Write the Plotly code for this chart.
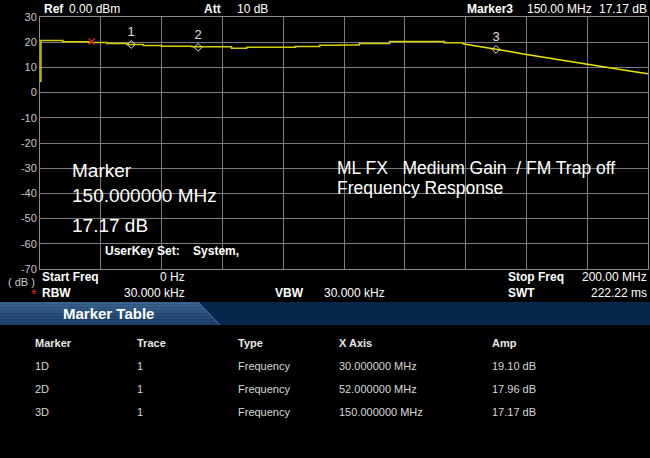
import plotly.graph_objects as go

# trace 1 (MHz / dB)
freq_mhz = [0, 0.3, 7.5, 16, 22, 28.6, 34, 40, 50, 63, 68, 84, 92, 98.4, 105, 115, 133, 139,
            144, 149, 154, 159, 164, 170, 175, 180, 185, 190, 195, 200]
amp_db = [4.5, 20.7, 20.2, 19.9, 19.5, 19.1, 18.7, 18.4, 18.2, 17.6, 18.0, 18.3, 18.8, 18.9,
          19.5, 20.3, 19.8, 19.4, 18.5, 17.4, 16.4, 15.3, 14.3, 13.1, 12.1, 11.1, 10.2, 9.3, 8.4, 7.5]
roll_off_start = 17  # index where the response starts falling

# markers
marker_names = ["1", "2", "3"]
marker_freq = [30, 52, 150]
marker_amp = [19.10, 17.96, 17.17]
peak_freq = [17]
peak_amp = [20.3]

# marker table
tbl_marker = ["1D", "2D", "3D"]
tbl_trace = ["1", "1", "1"]
tbl_type = ["Frequency", "Frequency", "Frequency"]
tbl_xaxis = ["30.000000 MHz", "52.000000 MHz", "150.000000 MHz"]
tbl_amp = ["19.10 dB", "17.96 dB", "17.17 dB"]

y_ticks = [30, 20, 10, 0, -10, -20, -30, -40, -50, -60, -70]

FONT = "Liberation Sans, Arial, sans-serif"
W, H = 650, 458
L, R, T, B = 40, 648, 17, 269


# pixel -> paper
def px(x):
    return (x - L) / (R - L)


def py(y):
    return (B - y) / (B - T)


fig = go.Figure()

# flat part is stepped on the display, the roll-off is a plain slope
fig.add_trace(go.Scatter(x=freq_mhz[:roll_off_start + 1], y=amp_db[:roll_off_start + 1], mode="lines",
                         line=dict(color="#d4d000", width=1.5, shape="hv"), showlegend=False, hoverinfo="skip"))
fig.add_trace(go.Scatter(x=freq_mhz[roll_off_start:], y=amp_db[roll_off_start:], mode="lines",
                         line=dict(color="#e8e800", width=1.5), showlegend=False, hoverinfo="skip"))
fig.add_trace(go.Scatter(x=marker_freq, y=marker_amp, mode="markers+text", text=marker_names,
                         textposition="top center", textfont=dict(color="#e0e0e0", size=13, family=FONT),
                         marker=dict(symbol="diamond-open", size=6, color="#e0e0e0", line=dict(width=1)),
                         showlegend=False))
fig.add_trace(go.Scatter(x=peak_freq, y=peak_amp, mode="markers",
                         marker=dict(symbol="x-thin-open", size=6, color="#d02020", line=dict(width=1.5, color="#d02020")),
                         showlegend=False))

ann = []


def txt(x, y, s, size=12, color="white", anchor="left", bold=False):
    ann.append(dict(x=px(x), y=py(y), xref="paper", yref="paper", text=("<b>%s</b>" % s) if bold else s,
                    showarrow=False, xanchor=anchor, yanchor="middle",
                    font=dict(family=FONT, size=size, color=color)))


# top bar
txt(42, 9, "Ref", 12, bold=True)
txt(67, 9, "0.00 dBm", 12)
txt(202, 9, "Att", 12, bold=True)
txt(235, 9, "10 dB", 12)
txt(465, 9, "Marker3", 12, bold=True)
txt(525, 9, "150.00 MHz", 12)
txt(649, 9, "17.17 dB", 12, anchor="right")

# notes inside the grid
txt(70, 170, "Marker", 19)
txt(70, 196, "150.000000 MHz", 19)
txt(70, 226, "17.17 dB", 19)
txt(335, 168, "ML FX   Medium Gain  / FM Trap off", 17.5)
txt(335, 188, "Frequency Response", 17.5)
txt(103, 251, "UserKey Set:    System,", 12, bold=True)

# info lines
txt(40, 277, "Start Freq", 12, bold=True)
txt(187, 277, "0 Hz", 12, anchor="right")
txt(506, 277, "Stop Freq", 12, bold=True)
txt(649, 277, "200.00 MHz", 12, anchor="right")
txt(21, 282, "( dB )", 11, color="#c8c8c8", anchor="center")
txt(34, 294, "*", 14, color="#e02020", anchor="center")
txt(40, 293, "RBW", 12, bold=True)
txt(187, 293, "30.000 kHz", 12, anchor="right")
txt(273, 293, "VBW", 12, bold=True)
txt(322, 293, "30.000 kHz", 12)
txt(506, 293, "SWT", 12, bold=True)
txt(649, 293, "222.22 ms", 12, anchor="right")

# marker table
txt(61, 313, "Marker Table", 15, bold=True)
cols = [(33, tbl_marker, "Marker"), (135, tbl_trace, "Trace"), (236, tbl_type, "Type"),
        (337, tbl_xaxis, "X Axis"), (490, tbl_amp, "Amp")]
for cx, vals, head in cols:
    txt(cx, 343, head, 11, color="#e8e8e8", bold=True)
    for i, v in enumerate(vals):
        txt(cx, 366 + 23 * i, v, 11, color="#d8d8d8")

# header band: lighter gradient on the left, navy on the right
shapes = [dict(type="rect", xref="paper", yref="paper", x0=px(0), x1=px(650), y0=py(325), y1=py(302),
               fillcolor="#06264c", line=dict(width=0))]
top_c = (0x3c, 0x67, 0x92)
bot_c = (0x1b, 0x3e, 0x66)
n = 8
for i in range(n):
    y0 = 302 + 23 * i / n
    y1 = 302 + 23 * (i + 1) / n
    t = (i + 0.5) / n
    c = tuple(int(a + (b - a) * t) for a, b in zip(top_c, bot_c))
    xa = 198 + 22 * (y0 - 302) / 23
    xb = 198 + 22 * (y1 - 302) / 23
    path = "M %f,%f L %f,%f L %f,%f L %f,%f Z" % (px(0), py(y0), px(xa), py(y0), px(xb), py(y1), px(0), py(y1))
    shapes.append(dict(type="path", xref="paper", yref="paper", path=path,
                       fillcolor="rgb(%d,%d,%d)" % c, line=dict(width=0)))
shapes.append(dict(type="line", xref="paper", yref="paper", x0=px(198), y0=py(302), x1=px(220), y1=py(325),
                   line=dict(color="#4a7aa8", width=1)))

fig.update_layout(
    width=W, height=H,
    margin=dict(l=L, r=W - R, t=T, b=H - B, autoexpand=False),
    paper_bgcolor="black", plot_bgcolor="black",
    annotations=ann, shapes=shapes,
    xaxis=dict(range=[0, 200], dtick=20, showticklabels=False, ticks="", showgrid=True,
               gridcolor="#7c7c7c", gridwidth=1, zeroline=False, showline=True, mirror=True,
               linecolor="#8a8a8a", linewidth=1, fixedrange=True),
    yaxis=dict(range=[-70, 30], tickvals=y_ticks, ticktext=[str(v) for v in y_ticks],
               tickfont=dict(family=FONT, size=11, color="#c8c8c8"), ticks="", showgrid=True,
               gridcolor="#7c7c7c", gridwidth=1, zeroline=False, showline=True, mirror=True,
               linecolor="#8a8a8a", linewidth=1, fixedrange=True),
)

fig.write_html("out.html", config={"displayModeBar": False},
               post_script="document.body.style.margin='0px';document.body.style.background='black';")
